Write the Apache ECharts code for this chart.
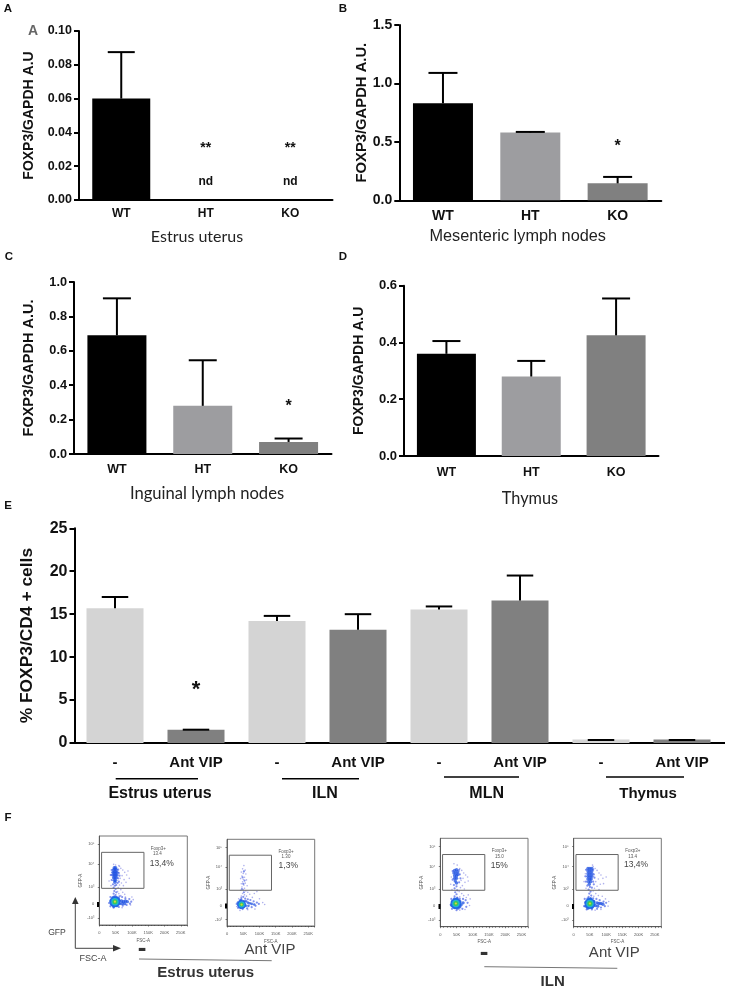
<!DOCTYPE html>
<html><head><meta charset="utf-8">
<style>html,body{margin:0;padding:0;background:#fff}#c{width:729px;height:991px}</style>
<script src="https://cdn.jsdelivr.net/npm/echarts@6/dist/echarts.min.js"></script>
</head><body><div id="c"></div>
<script>
// ---- Data ----
const genotypes = ['WT','HT','KO'];
const aValues = [0.06,0,0];        const aErrTop = [0.0875,null,null];
const bValues = [0.83,0.58,0.145]; const bErrTop = [1.09,0.585,0.2];
const cValues = [0.69,0.28,0.07];  const cErrTop = [0.905,0.545,0.09];
const dValues = [0.36,0.28,0.425]; const dErrTop = [0.405,0.335,0.555];
const aMarks = [[1,0.0305,'**'],[2,0.0305,'**'],[1,0.0106,'nd'],[2,0.0106,'nd']];
const bMarks = [[2,0.463,'*']];
const cMarks = [[2,0.278,'*']];
const eCats = ['-','Ant VIP','-','Ant VIP','-','Ant VIP','-','Ant VIP'];
const eValues = [15.7,1.55,14.2,13.2,15.55,16.6,0.4,0.4];
const eErrTop = [17,1.55,14.8,15,15.9,19.5,0.35,0.35];
const eMarks = [[1,6.15,'*']];
const fsLabels = ['0','50K','100K','150K','200K','250K'];
const gfpTicks = [20,63,113,182,242];
const gfpLabels = ['-10³','0','10³','10⁴','10⁵'];
const gate = [[7,110],[137,110],[137,218],[7,218],[7,110]];

const p1Sparse = [[60,178],[66,170],[72,165],[78,158],[84,150],[70,148],[64,140],[76,136],[82,128],[68,126],[62,120],[74,118],[58,112],[66,106],[72,98],[60,94],[78,92],[34,150],[30,132],[36,118],[62,176],[88,162],[92,140],[56,100],[66,88],[80,84],[100,84],[104,76],[96,60],[70,52],[50,180],[44,182]];
const p1Mid = [[58,166],[60,156],[62,148],[58,140],[60,130],[56,126],[38,165],[36,150],[38,135],[42,122],[48,118],[52,120],[44,112],[50,108],[46,102],[52,98],[44,94],[50,90],[46,86],[54,84],[62,86],[70,84],[80,80],[92,78],[98,70],[94,64],[84,60],[72,58],[60,54],[44,52],[34,56],[30,66],[34,84]];
const p1Dense = [[42,150],[46,150],[50,150],[54,150],[42,158],[46,158],[50,158],[54,158],[44,166],[48,166],[52,166],[44,142],[48,142],[52,142],[46,172],[50,172],[46,134],[50,134],[48,128],[36,72],[38,62],[60,74],[62,64],[68,72],[74,70],[80,72],[86,70],[42,82],[50,82],[58,80],[70,64],[78,64],[44,56],[54,58]];
const p1Core = [[48,70]];
const p2Sparse = [[52,186],[48,176],[56,172],[44,166],[50,162],[58,160],[46,154],[54,150],[42,146],[50,144],[60,142],[48,136],[56,132],[44,130],[52,126],[62,124],[46,120],[54,116],[50,112],[42,110],[58,108],[64,104],[48,100],[54,96],[70,98],[84,100],[92,106],[60,92],[44,92],[78,88],[100,84],[110,72],[116,66],[36,84],[30,60],[64,50],[40,48],[86,52]];
const p2Mid = [[52,168],[48,150],[54,140],[50,130],[46,114],[52,104],[50,90],[44,86],[56,84],[64,82],[72,80],[82,76],[92,72],[98,68],[88,62],[76,58],[62,54],[48,52],[34,56],[30,68]];
const p2Dense = [[34,72],[36,64],[40,78],[44,80],[52,76],[58,76],[64,72],[70,70],[76,68],[84,66],[58,62],[66,62],[42,56],[50,58]];
const p2Core = [[45,66]];
const p3Sparse = [[42,190],[52,186],[60,176],[66,170],[72,162],[78,156],[84,150],[70,146],[64,140],[76,134],[86,138],[68,124],[62,118],[74,114],[58,106],[66,100],[72,94],[60,90],[80,88],[34,150],[32,128],[36,112],[86,96],[92,84],[90,64],[76,52],[60,50]];
const p3Mid = [[58,172],[60,158],[62,146],[58,134],[38,168],[38,142],[42,126],[50,122],[44,116],[52,110],[46,104],[50,98],[44,92],[52,88],[60,84],[70,84],[78,80],[84,72],[80,60],[68,54],[50,50],[36,54],[32,66],[34,84]];
const p3Dense = [[44,170],[50,172],[54,166],[42,162],[48,162],[54,158],[44,154],[50,154],[44,146],[50,146],[46,138],[50,132],[38,76],[36,64],[60,76],[64,66],[70,72],[44,84],[52,84],[60,60],[44,58],[54,56]];
const p3Core = [[48,70]];
const p4Sparse = [[60,182],[66,176],[72,170],[78,162],[84,156],[90,146],[76,144],[68,136],[82,128],[92,130],[72,122],[64,116],[78,112],[60,108],[68,100],[76,94],[62,92],[88,92],[36,160],[32,136],[38,116],[58,186],[100,150],[98,84],[108,76],[106,62],[84,52],[66,50]];
const p4Mid = [[60,172],[62,158],[64,148],[60,136],[62,128],[38,172],[36,152],[38,136],[42,124],[50,120],[56,118],[46,112],[52,106],[48,100],[54,94],[46,90],[52,86],[60,86],[70,84],[80,80],[92,76],[100,72],[96,62],[84,58],[72,54],[56,52],[40,52],[32,62],[34,84]];
const p4Dense = [[44,176],[50,176],[56,176],[44,168],[50,168],[56,168],[44,160],[50,160],[56,160],[44,152],[50,152],[56,152],[44,144],[50,144],[54,144],[46,136],[52,136],[48,128],[38,74],[38,62],[62,76],[66,64],[72,72],[78,70],[84,70],[90,68],[44,84],[52,84],[74,62],[44,56],[56,58]];
const p4Core = [[50,70]];

// ---- Panels ----
const font = '"Liberation Sans", Arial, sans-serif';
const blackC='#000', midC='#9d9da0', darkC='#808080', paleC='#d4d4d4';
const panels = [
 {l:79,t:31,w:253.5,h:169,cats:genotypes,vals:aValues,err:aErrTop,marks:aMarks,colors:[blackC,midC,darkC],max:0.10,step:0.02,dec:2,tf:12.5,cf:12,cm:8,bw:58,cap:27,name:'FOXP3/GAPDH A.U',nf:14,gap:43,mf:14},
 {l:399.3,t:25,w:262,h:175.3,cats:genotypes,vals:bValues,err:bErrTop,marks:bMarks,colors:[blackC,midC,darkC],max:1.5,step:0.5,dec:1,tf:14,cf:14,cm:9,bw:60,cap:29,name:'FOXP3/GAPDH A.U.',nf:14.8,gap:27,mf:16},
 {l:74,t:282,w:257.5,h:172,cats:genotypes,vals:cValues,err:cErrTop,marks:cMarks,colors:[blackC,midC,darkC],max:1.0,step:0.2,dec:1,tf:12.7,cf:12.5,cm:9,bw:59,cap:28,name:'FOXP3/GAPDH A.U.',nf:14.5,gap:37.5,mf:16},
 {l:404,t:285.7,w:254.5,h:170.3,cats:genotypes,vals:dValues,err:dErrTop,marks:[],colors:[blackC,midC,darkC],max:0.6,step:0.2,dec:1,tf:13,cf:12.5,cm:10,bw:59,cap:28,name:'FOXP3/GAPDH A.U',nf:14,gap:38,mf:13},
 {l:74.5,t:528.3,w:648,h:214.7,cats:eCats,vals:eValues,err:eErrTop,marks:eMarks,colors:[paleC,darkC,paleC,darkC,paleC,darkC,paleC,darkC],max:25,step:5,dec:0,tf:16,cf:15,cm:12,bw:57,cap:26.5,name:'% FOXP3/CD4 + cells',nf:17.4,gap:39,mf:22}
];
const flows = [
 {l:99.3,t:836,w:88,h:89,s:p1Sparse,m:p1Mid,d:p1Dense,c:p1Core},
 {l:227,t:839.3,w:87.7,h:86.7,s:p2Sparse,m:p2Mid,d:p2Dense,c:p2Core,small:true},
 {l:440.3,t:838.3,w:87.7,h:88.4,s:p3Sparse,m:p3Mid,d:p3Dense,c:p3Core},
 {l:573.7,t:838.3,w:87.6,h:88.4,s:p4Sparse,m:p4Mid,d:p4Dense,c:p4Core}
];

const grid=[],xAxis=[],yAxis=[],series=[];
panels.forEach((p,i)=>{
  grid.push({left:p.l,top:p.t,width:p.w,height:p.h,containLabel:false});
  const ax={lineStyle:{color:'#000',width:2}};
  xAxis.push({gridIndex:i,type:'category',data:p.cats,axisLine:{onZero:false,...ax},
    axisTick:{alignWithLabel:true,length:5,...ax},
    axisLabel:{interval:0,color:'#111',fontFamily:font,fontWeight:'bold',fontSize:p.cf,margin:p.cm}});
  yAxis.push({gridIndex:i,type:'value',min:0,max:p.max,interval:p.step,splitLine:{show:false},
    axisLine:{show:true,...ax},axisTick:{show:true,length:5,...ax},
    axisLabel:{color:'#111',fontFamily:font,fontWeight:'bold',fontSize:p.tf,margin:7,formatter:v=>v.toFixed(p.dec)},
    name:p.name,nameLocation:'middle',nameGap:p.gap,nameRotate:90,
    nameTextStyle:{color:'#111',fontFamily:font,fontWeight:'bold',fontSize:p.nf}});
  series.push({type:'bar',xAxisIndex:i,yAxisIndex:i,barWidth:p.bw,silent:true,animation:false,
    data:p.vals.map((v,k)=>({value:v,itemStyle:{color:p.colors[k]}}))});
  series.push({type:'custom',xAxisIndex:i,yAxisIndex:i,silent:true,animation:false,z:5,clip:false,
    data:p.vals.map((v,k)=>[k,v,p.err[k]]).filter(d=>d[2]!=null),
    encode:{x:0,y:[1,2]},
    renderItem:(params,api)=>{
      const a=api.coord([api.value(0),api.value(1)]), b=api.coord([api.value(0),api.value(2)]);
      const st={stroke:'#000',lineWidth:2};
      return {type:'group',children:[
        {type:'line',shape:{x1:a[0],y1:a[1],x2:b[0],y2:b[1]},style:st},
        {type:'line',shape:{x1:b[0]-p.cap/2*1,y1:b[1],x2:b[0]+p.cap/2*1,y2:b[1]},style:st}]};
    }});
  if(p.marks.length) series.push({type:'custom',xAxisIndex:i,yAxisIndex:i,silent:true,animation:false,z:6,clip:false,
    data:p.marks, encode:{x:0,y:1},
    renderItem:(params,api)=>{
      const m=p.marks[params.dataIndex], c=api.coord([m[0],m[1]]);
      const isNd=m[2]==='nd';
      return {type:'text',x:c[0],y:c[1],style:{text:m[2],fill:'#111',textAlign:'center',textVerticalAlign:'middle',
        font:'bold '+(isNd?12:p.mf)+'px '+font}};
    }});
});
flows.forEach((f,j)=>{
  const i=panels.length+j;
  grid.push({left:f.l,top:f.t,width:f.w,height:f.h,show:true,borderColor:'#777',borderWidth:1,backgroundColor:'#fff'});
  const ln={lineStyle:{color:'#444',width:0.7}};
  xAxis.push({gridIndex:i,type:'value',min:0,max:270,interval:50,splitLine:{show:false},
    axisLine:{onZero:false,...ln},axisTick:{length:1.5,...ln},minorTick:{show:true,splitNumber:5,length:1,...ln},
    axisLabel:{color:'#555',fontSize:4,margin:6,fontFamily:font,showMaxLabel:false,formatter:v=>fsLabels[v/50]||''},
    name:'FSC-A',nameLocation:'middle',nameGap:13,nameTextStyle:{color:'#555',fontSize:4.5,fontFamily:font}});
  yAxis.push({gridIndex:i,type:'value',min:0,max:267,splitLine:{show:false},
    axisLine:{onZero:false,...ln},axisTick:{length:1.5,customValues:gfpTicks,...ln},
    axisLabel:{color:'#555',fontSize:4,margin:5,fontFamily:font,customValues:gfpTicks,formatter:v=>gfpLabels[gfpTicks.indexOf(v)]||''},
    name:'GFP-A',nameLocation:'middle',nameGap:11,nameRotate:90,nameTextStyle:{color:'#555',fontSize:4.5,fontFamily:font}});
  const sc=(data,color,size,op,z)=>({type:'scatter',xAxisIndex:i,yAxisIndex:i,data,symbolSize:size,silent:true,animation:false,large:false,z,
    itemStyle:{color,opacity:op}});
  series.push(sc(f.s,'#8d90e6',1.6,0.7,3));
  series.push(sc(f.m,'#4a63e6',2.2,0.7,4));
  series.push(sc(f.d,'#1d50e2',f.small?2.6:3.4,0.75,5));
  series.push(sc(f.c,'#1a66e6',f.small?9:11,0.9,6));
  series.push(sc(f.c,'#22b4d6',f.small?6:7.5,1,7));
  series.push(sc(f.c,'#3cc85a',f.small?4:5,1,8));
  series.push(sc(f.c,'#d8d83a',2.2,1,9));
  series.push({type:'line',xAxisIndex:i,yAxisIndex:i,data:gate,symbol:'none',silent:true,animation:false,z:10,
    lineStyle:{color:'#666',width:1}});
});

// ---- Annotations ----
const txt=(text,x,y,size,opt={})=>({type:'text',x,y,silent:true,z:20,style:{text,font:(opt.bold?'bold ':'')+size+'px '+(opt.family||font),
  fill:opt.fill||'#222',textAlign:'center',textVerticalAlign:'middle'}});
const line=(x1,y1,x2,y2,stroke,w)=>({type:'line',silent:true,z:20,shape:{x1,y1,x2,y2},style:{stroke,lineWidth:w}});
const g=[];
[['A',8,9],['B',343,9],['C',9,257],['D',343,257],['E',8,506],['F',8,818]].forEach(a=>g.push(txt(a[0],a[1],a[2],11.5,{bold:true,fill:'#111'})));
g.push(txt('A',33,31,14,{bold:true,fill:'#666'}));
g.push(txt('Estrus uterus',197,237,16,{family:'Lato',fill:'#222'}));
g.push(txt('Mesenteric lymph nodes',517.7,237,16.3,{fill:'#222'}));
g.push(txt('Inguinal lymph nodes',207,494,16.6,{family:'Lato',fill:'#222'}));
g.push(txt('Thymus',530,499,16.3,{family:'Lato',fill:'#222'}));
g.push(line(722,743,725,743,'#000',2));
[[115.7,198,778.7,'Estrus uterus',160],[282,359,778.7,'ILN',325],[444,519,777,'MLN',486.7],[606,684,777,'Thymus',648]].forEach(b=>{
  g.push(line(b[0],b[2],b[1],b[2],'#000',1.6));
  g.push(txt(b[3],b[4],794,b[3]==='Thymus'?15:16,{bold:true,fill:'#111'}));
});
[[158.3,848.7,'Foxp3+','13.4',157.3,854,'13,4%',161.7,864],[286,851.7,'Foxp3+','1.30',286,857,'1,3%',288.3,865.7],
 [499.3,851,'Foxp3+','15.0',499.3,856.7,'15%',499.3,865.7],[632.7,851,'Foxp3+','13.4',632.7,856.7,'13,4%',636,865]].forEach(t=>{
  g.push(txt(t[2],t[0],t[1],4.5,{fill:'#555'}));
  g.push(txt(t[3],t[4],t[5],4.5,{fill:'#555'}));
  g.push(txt(t[6],t[7],t[8],8.5,{fill:'#444'}));
});
[[97,902],[225,903.5],[438.5,904],[572,904]].forEach(r=>g.push({type:'rect',silent:true,z:20,shape:{x:r[0],y:r[1],width:2,height:5},style:{fill:'#000'}}));
g.push(line(75.3,948.3,75.3,903,'#444',1));
g.push(line(75.3,948.3,115,948.3,'#444',1));
g.push({type:'polygon',silent:true,z:20,shape:{points:[[75.3,897],[72,904],[78.6,904]]},style:{fill:'#333'}});
g.push({type:'polygon',silent:true,z:20,shape:{points:[[121,948.3],[113,945],[113,951.6]]},style:{fill:'#333'}});
g.push(txt('GFP',57,932.7,8.6,{fill:'#444'}));
g.push(txt('FSC-A',93,959,9,{fill:'#444'}));
g.push(txt('-',142,949,26,{bold:true,fill:'#333'}));
g.push(txt('Ant VIP',270,950,15,{fill:'#444'}));
g.push(line(139,959,271.7,960.7,'#777',1));
g.push(txt('Estrus uterus',205.7,972.7,15,{bold:true,fill:'#333'}));
g.push(txt('-',484,953,26,{bold:true,fill:'#333'}));
g.push(txt('Ant VIP',614.3,952.7,15,{fill:'#444'}));
g.push(line(484.3,966.7,617.3,968.3,'#777',1));
g.push(txt('ILN',552.7,982,15,{bold:true,fill:'#333'}));

const chart=echarts.init(document.getElementById('c'),null,{renderer:'canvas'});
chart.setOption({animation:false,backgroundColor:'#fff',grid,xAxis,yAxis,series,graphic:g});
</script></body></html>
